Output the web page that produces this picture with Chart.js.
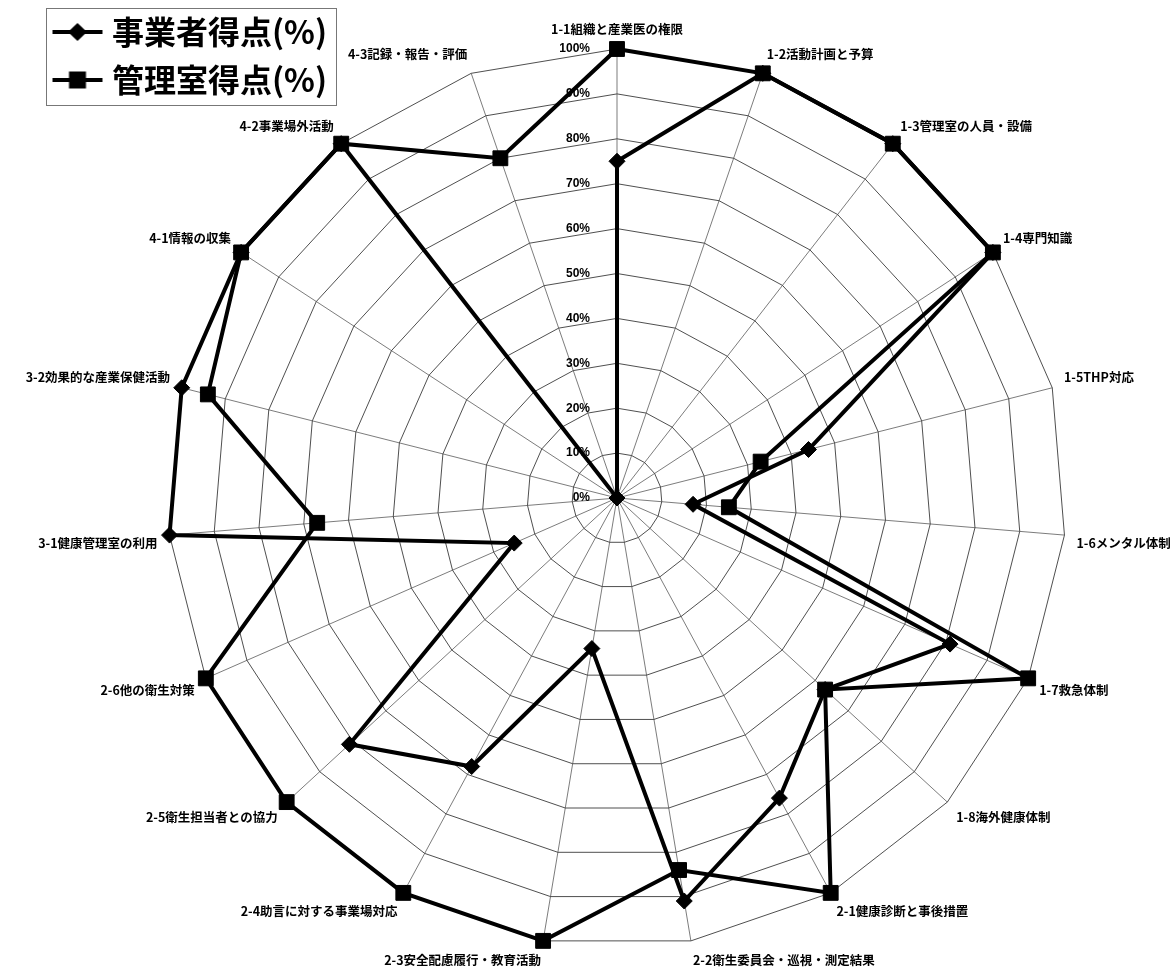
<!DOCTYPE html>
<html lang="ja">
<head>
<meta charset="utf-8">
<title>事業者得点と管理室得点</title>
<script src="https://cdn.jsdelivr.net/npm/chart.js@4.4.1/dist/chart.umd.min.js"></script>
<style>
  html, body { margin: 0; padding: 0; background: #fff; overflow: hidden; }
  /* 右端・下端のラベル余白ぶん、キャンバスを窓より少し大きく取る */
  #wrap { position: relative; width: 1205px; height: 972px; }
</style>
</head>
<body>
<div id="wrap"><canvas id="radarChart"></canvas></div>
<script>
// 評価項目（時計回り、上から）
const ITEM_LABELS = [
  "1-1組織と産業医の権限",
  "1-2活動計画と予算",
  "1-3管理室の人員・設備",
  "1-4専門知識",
  "1-5THP対応",
  "1-6メンタル体制",
  "1-7救急体制",
  "1-8海外健康体制",
  "2-1健康診断と事後措置",
  "2-2衛生委員会・巡視・測定結果",
  "2-3安全配慮履行・教育活動",
  "2-4助言に対する事業場対応",
  "2-5衛生担当者との協力",
  "2-6他の衛生対策",
  "3-1健康管理室の利用",
  "3-2効果的な産業保健活動",
  "4-1情報の収集",
  "4-2事業場外活動",
  "4-3記録・報告・評価"
];

const COMPANY_NAME = "事業者得点(%)";
const OFFICE_NAME = "管理室得点(%)";

const COMPANY_SCORES = [75, 100, 100, 100, 44, 17, 81, 63, 76, 91, 34, 68, 81, 25, 100, 100, 100, 100, 0];
const OFFICE_SCORES = [100, 100, 100, 100, 33, 25, 100, 63, 100, 84, 100, 100, 100, 100, 67, 94, 100, 100, 80];

const TICK_VALUES = [0, 10, 20, 30, 40, 50, 60, 70, 80, 90, 100];

// 凡例アイコンの寸法
const LEGEND_BOX_W = 71;
const ICON_W = 100;
const ICON_H = 20;
const ICON_LINE_START = 42;
const ICON_LINE_LEN = 50;

// =========================
// 凡例アイコン（線＋マーカー）
// =========================

function makeLegendIcon(shape) {
  const c = document.createElement("canvas");
  c.width = ICON_W;
  c.height = ICON_H;
  const ctx = c.getContext("2d");
  const mid = ICON_LINE_START + ICON_LINE_LEN / 2;
  ctx.fillStyle = "#000";
  ctx.strokeStyle = "#000";
  ctx.lineWidth = 4;
  ctx.beginPath();
  ctx.moveTo(ICON_LINE_START, 10);
  ctx.lineTo(ICON_LINE_START + ICON_LINE_LEN, 10);
  ctx.stroke();
  ctx.beginPath();
  if (shape === "diamond") {
    ctx.moveTo(mid, 1);
    ctx.lineTo(mid + 9.5, 10);
    ctx.lineTo(mid, 19);
    ctx.lineTo(mid - 9.5, 10);
    ctx.closePath();
  } else {
    ctx.rect(mid - 8.5, 1.5, 17, 17);
  }
  ctx.fill();
  return c;
}

const legendIcons = [makeLegendIcon("diamond"), makeLegendIcon("square")];

// =========================
// プラグイン
// =========================

// 目盛ラベル（0%〜100%）を縦軸の左側に描く
const tickLabelPlugin = {
  id: "tickLabels",
  beforeDatasetsDraw(chart) {
    const scale = chart.scales.r;
    const ctx = chart.ctx;
    ctx.save();
    ctx.font = "bold 12px 'Liberation Sans', Arial, sans-serif";
    ctx.fillStyle = "#000";
    ctx.textAlign = "right";
    ctx.textBaseline = "middle";
    TICK_VALUES.forEach((v) => {
      const y = scale.yCenter - scale.getDistanceFromCenterForValue(v);
      ctx.fillText(v + "%", scale.xCenter - 27, y);
    });
    ctx.restore();
  },
};

// 凡例の枠線
const legendFramePlugin = {
  id: "legendFrame",
  afterDraw(chart) {
    const boxes = chart.legend && chart.legend.legendHitBoxes;
    if (!boxes || !boxes.length) return;
    const first = boxes[0];
    const last = boxes[boxes.length - 1];
    const lineStart = first.left + LEGEND_BOX_W / 2 - ICON_W / 2 + ICON_LINE_START;
    const left = lineStart - 7;
    const right = Math.max(...boxes.map((b) => b.left + b.width)) + 8;
    const top = first.top - 8;
    const bottom = last.top + last.height + 9;
    const ctx = chart.ctx;
    ctx.save();
    ctx.strokeStyle = "#777";
    ctx.lineWidth = 1;
    ctx.strokeRect(Math.round(left) + 0.5, Math.round(top) + 0.5, Math.round(right - left), Math.round(bottom - top));
    ctx.restore();
  },
};

// =========================
// グラフ
// =========================

new Chart(document.getElementById("radarChart"), {
  type: "radar",
  data: {
    labels: ITEM_LABELS,
    datasets: [
      {
        label: COMPANY_NAME,
        data: COMPANY_SCORES,
        borderColor: "#000",
        backgroundColor: "#000",
        borderWidth: 4,
        fill: false,
        pointStyle: "rectRot",
        pointRadius: 8,
        pointBorderWidth: 1,
        pointBackgroundColor: "#000",
      },
      {
        label: OFFICE_NAME,
        data: OFFICE_SCORES,
        borderColor: "#000",
        backgroundColor: "#000",
        borderWidth: 4,
        fill: false,
        pointStyle: "rect",
        pointRadius: 10.5,
        pointBorderWidth: 1,
        pointBackgroundColor: "#000",
      },
    ],
  },
  options: {
    responsive: true,
    maintainAspectRatio: false,
    animation: false,
    layout: { padding: { top: 19, left: 9, right: 0, bottom: 0 } },
    elements: { line: { tension: 0 } },
    scales: {
      r: {
        min: 0,
        max: 100,
        ticks: { stepSize: 10, display: false },
        grid: { color: "#222", lineWidth: 0.8 },
        angleLines: { color: "#444", lineWidth: 0.7 },
        pointLabels: {
          color: "#000",
          padding: 12,
          font: { family: "'Noto Sans CJK JP', sans-serif", size: 12.5, weight: "bold" },
        },
      },
    },
    plugins: {
      tooltip: { enabled: false },
      legend: {
        position: "chartArea",
        align: "start",
        labels: {
          color: "#000",
          padding: 16,
          usePointStyle: true,
          pointStyleWidth: LEGEND_BOX_W,
          font: { family: "'Noto Sans CJK JP', sans-serif", size: 32, weight: "bold" },
          generateLabels(chart) {
            const items = Chart.defaults.plugins.legend.labels.generateLabels(chart);
            items.forEach((item, i) => {
              item.pointStyle = legendIcons[i];
            });
            return items;
          },
        },
      },
    },
  },
  plugins: [tickLabelPlugin, legendFramePlugin],
});
</script>
</body>
</html>
